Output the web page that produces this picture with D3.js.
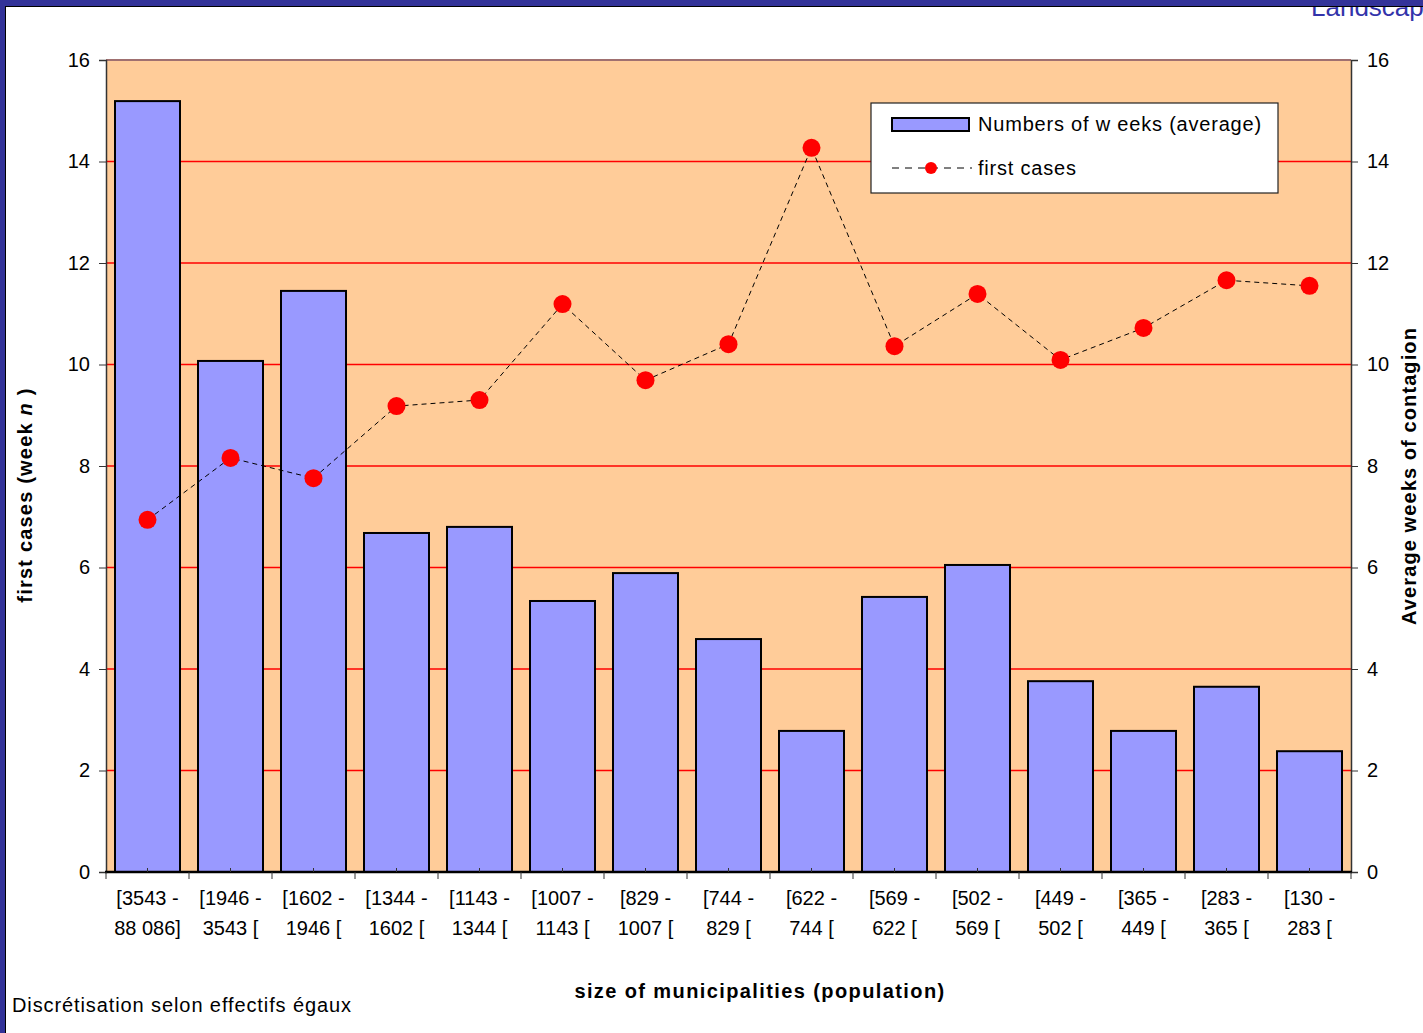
<!DOCTYPE html>
<html><head><meta charset="utf-8">
<script src="https://cdn.jsdelivr.net/npm/d3@7"></script>
<style>body{margin:0;background:#fff;} svg{display:block;font-family:"Liberation Sans",Arial,sans-serif;}</style>
</head><body>
<svg id="c" width="1423" height="1033"></svg>
<script>
const categories = [
  ["[3543 -","88 086]"],["[1946 -","3543 ["],["[1602 -","1946 ["],["[1344 -","1602 ["],
  ["[1143 -","1344 ["],["[1007 -","1143 ["],["[829 -","1007 ["],["[744 -","829 ["],
  ["[622 -","744 ["],["[569 -","622 ["],["[502 -","569 ["],["[449 -","502 ["],
  ["[365 -","449 ["],["[283 -","365 ["],["[130 -","283 ["]
];
const weeksAverage = [15.19,10.07,11.45,6.68,6.80,5.34,5.89,4.59,2.78,5.42,6.05,3.76,2.78,3.65,2.38];
const firstCases = [6.94,8.16,7.76,9.18,9.30,11.19,9.69,10.40,14.27,10.36,11.39,10.09,10.72,11.66,11.55];
const yTicks = [0,2,4,6,8,10,12,14,16];

const svg = d3.select("#c");
const L=106,R=1351,T=60,B=872;
const x = d3.scaleBand().domain(d3.range(categories.length)).range([L,R]).paddingInner(18/83).paddingOuter(9/83);
const xb = d3.scaleBand().domain(d3.range(categories.length)).range([L,R]);
const y = d3.scaleLinear().domain([0,16]).range([B,T]);

// plot area
svg.append("rect").attr("x",L).attr("y",T).attr("width",R-L).attr("height",B-T).attr("fill","#FFCC99");
// grid
svg.append("g").selectAll("line").data(yTicks.filter(d=>d>0&&d<16)).join("line")
  .attr("x1",L).attr("x2",R).attr("y1",d=>y(d)).attr("y2",d=>y(d)).attr("stroke","#FF0000").attr("stroke-width",1.5);
svg.append("line").attr("x1",L).attr("x2",R).attr("y1",T).attr("y2",T).attr("stroke","#a07070").attr("stroke-width",2);

// bars
svg.append("g").selectAll("rect").data(weeksAverage).join("rect")
  .attr("x",(d,i)=>x(i)).attr("width",x.bandwidth()).attr("y",d=>y(d)).attr("height",d=>B-y(d))
  .attr("fill","#9999FF").attr("stroke","#000").attr("stroke-width",2);

// axes
const yl = svg.append("g").attr("transform",`translate(${L},0)`).call(d3.axisLeft(y).tickValues(yTicks).tickSize(7).tickPadding(8));
const yr = svg.append("g").attr("transform",`translate(${R},0)`).call(d3.axisRight(y).tickValues(yTicks).tickSize(7).tickPadding(9));
[yl,yr].forEach(g=>{g.select(".domain").attr("stroke","#333").attr("stroke-width",1.5);
  g.selectAll(".tick line").attr("stroke","#333");
  g.selectAll(".tick text").attr("font-size",20).attr("font-family","Liberation Sans, Arial").attr("fill","#000");});
yl.selectAll(".tick text").attr("x",-16);

// x axis with ticks at band boundaries
const xa = svg.append("g");
xa.append("line").attr("x1",L-1).attr("x2",R+1).attr("y1",B).attr("y2",B).attr("stroke","#000").attr("stroke-width",2.5);
xa.selectAll("line.bt").data(d3.range(categories.length+1)).join("line").attr("class","bt")
  .attr("x1",i=>L+i*xb.step()).attr("x2",i=>L+i*xb.step()).attr("y1",B).attr("y2",B+7).attr("stroke","#333");
xa.selectAll("line.mt").data(d3.range(categories.length)).join("line").attr("class","mt")
  .attr("x1",i=>xb(i)+xb.bandwidth()/2).attr("x2",i=>xb(i)+xb.bandwidth()/2).attr("y1",B).attr("y2",B-4).attr("stroke","#333");
const lab = xa.selectAll("text").data(categories).join("text")
  .attr("text-anchor","middle").attr("font-size",20).attr("fill","#000");
lab.append("tspan").attr("x",(d,i)=>xb(i)+xb.bandwidth()/2).attr("y",905).text(d=>d[0]);
lab.append("tspan").attr("x",(d,i)=>xb(i)+xb.bandwidth()/2).attr("y",935).text(d=>d[1]);

// line series
const cx = i=>xb(i)+xb.bandwidth()/2;
svg.append("path").datum(firstCases).attr("fill","none").attr("stroke","#000").attr("stroke-width",1).attr("stroke-dasharray","5,4")
  .attr("d",d3.line().x((d,i)=>cx(i)).y(d=>y(d)));
svg.append("g").selectAll("circle").data(firstCases).join("circle")
  .attr("cx",(d,i)=>cx(i)).attr("cy",d=>y(d)).attr("r",9).attr("fill","#FF0000");

// legend
const lg = svg.append("g");
lg.append("rect").attr("x",871).attr("y",103).attr("width",407).attr("height",90).attr("fill","#fff").attr("stroke","#222").attr("stroke-width",1.2);
lg.append("rect").attr("x",892).attr("y",118).attr("width",77).attr("height",13).attr("fill","#9999FF").attr("stroke","#000").attr("stroke-width",2);
lg.append("text").attr("x",978).attr("y",131).attr("font-size",20).attr("letter-spacing",0.8).text("Numbers of w eeks (average)");
lg.append("line").attr("x1",892).attr("x2",972).attr("y1",168).attr("y2",168).attr("stroke","#000").attr("stroke-dasharray","7,6");
lg.append("circle").attr("cx",931).attr("cy",168).attr("r",6).attr("fill","#FF0000");
lg.append("text").attr("x",978).attr("y",175).attr("font-size",20).attr("letter-spacing",0.8).text("first cases");

// axis titles
const lt = svg.append("text").attr("transform","translate(32,495) rotate(-90)").attr("text-anchor","middle")
  .attr("font-size",20).attr("font-weight","bold").attr("letter-spacing",1.2);
lt.append("tspan").text("first cases (week    ");
lt.append("tspan").attr("font-style","italic").text("n");
lt.append("tspan").text(" )");
svg.append("text").attr("transform","translate(1416,476) rotate(-90)").attr("text-anchor","middle")
  .attr("font-size",20).attr("font-weight","bold").attr("letter-spacing",1.1).text("Average weeks of contagion");
svg.append("text").attr("x",760).attr("y",998).attr("text-anchor","middle").attr("font-size",20).attr("font-weight","bold").attr("letter-spacing",1.4).text("size of municipalities (population)");
svg.append("text").attr("x",12).attr("y",1012).attr("font-size",20).attr("letter-spacing",0.9).text("Discrétisation selon effectifs égaux");

// frame
svg.append("text").attr("x",1311).attr("y",16).attr("font-size",26).attr("fill","#3333AA").text("Landscape");
svg.append("rect").attr("x",0).attr("y",0).attr("width",1423).attr("height",6).attr("fill","#333399");
svg.append("line").attr("x1",0).attr("x2",1423).attr("y1",6.5).attr("y2",6.5).attr("stroke","#000");
svg.append("rect").attr("x",0).attr("y",0).attr("width",5).attr("height",1033).attr("fill","#333399");
svg.append("line").attr("x1",5.5).attr("x2",5.5).attr("y1",6).attr("y2",1033).attr("stroke","#000");
</script>
</body></html>
